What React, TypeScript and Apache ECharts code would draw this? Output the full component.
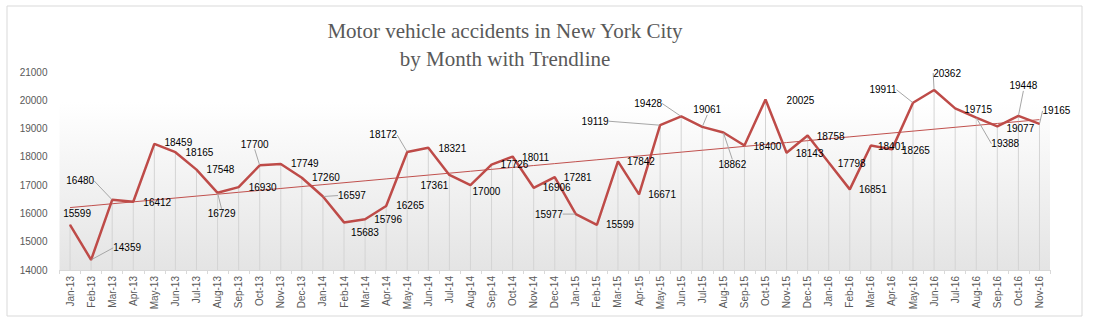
import React, { useEffect, useRef } from "react";
import * as echarts from "echarts";

const months: string[] = [
  "Jan-13", "Feb-13", "Mar-13", "Apr-13", "May-13", "Jun-13", "Jul-13", "Aug-13", "Sep-13", "Oct-13", "Nov-13", "Dec-13",
  "Jan-14", "Feb-14", "Mar-14", "Apr-14", "May-14", "Jun-14", "Jul-14", "Aug-14", "Sep-14", "Oct-14", "Nov-14", "Dec-14",
  "Jan-15", "Feb-15", "Mar-15", "Apr-15", "May-15", "Jun-15", "Jul-15", "Aug-15", "Sep-15", "Oct-15", "Nov-15", "Dec-15",
  "Jan-16", "Feb-16", "Mar-16", "Apr-16", "May-16", "Jun-16", "Jul-16", "Aug-16", "Sep-16", "Oct-16", "Nov-16",
];

const accidents: number[] = [
  15599, 14359, 16480, 16412, 18459, 18165, 17548, 16729, 16930, 17700, 17749, 17260,
  16597, 15683, 15796, 16265, 18172, 18321, 17361, 17000, 17726, 18011, 16906, 17281,
  15977, 15599, 17842, 16671, 19119, 19428, 19061, 18862, 18400, 20025, 18143, 18758,
  17798, 16851, 18401, 18265, 19911, 20362, 19715, 19388, 19077, 19448, 19165,
];

const yTicks = { min: 14000, max: 21000, interval: 1000 };

// label placement (style): offset of label centre from its point, in px
const labelOffsets: [number, number][] = [
  [7, -11], [36, -12], [-32, -19], [24, 1], [24, -1], [24, 0], [24, 0], [4, 21], [24, 0], [-5, -21], [24, 0], [24, 0],
  [29, -1], [21, 10], [23, 0], [24, 0], [-24, -17], [24, 1], [-15, 11], [16, 6], [23, 0], [23, 1], [23, 0], [23, 0],
  [-27, 0], [23, 0], [23, 0], [23, 0], [-65, -4], [-33, -13], [5, -17], [9, 32], [23, 1], [35, 1], [23, 1], [23, 1],
  [23, 1], [23, 0], [21, 1], [24, 1], [-30, -13], [13, -17], [23, 1], [29, 26], [23, 2], [5, -30], [17, -13],
];
const leaderIdx = new Set([1, 2, 7, 9, 12, 16, 24, 28, 29, 30, 31, 40, 41, 43, 45, 46]);

function linearTrend(vals: number[]): number[] {
  const n = vals.length;
  let sx = 0, sy = 0, sxx = 0, sxy = 0;
  vals.forEach((y, i) => {
    const x = i + 1;
    sx += x; sy += y; sxx += x * x; sxy += x * y;
  });
  const b = (n * sxy - sx * sy) / (n * sxx - sx * sx);
  const a = (sy - b * sx) / n;
  return vals.map((_, i) => a + b * (i + 1));
}

export default function App() {
  const ref = useRef<HTMLDivElement>(null);
  useEffect(() => {
    if (!ref.current) return;
    const chart = echarts.init(ref.current, undefined, { renderer: "svg" });
    const trend = linearTrend(accidents);
    const labelFont = "'Liberation Sans', Arial, sans-serif";
    chart.setOption({
      animation: false,
      backgroundColor: "#ffffff",
      title: {
        text: "Motor vehicle accidents in New York City\nby Month with Trendline",
        left: 505,
        top: 17,
        padding: 0,
        textAlign: "center",
        textStyle: {
          fontFamily: "'Liberation Serif', 'DejaVu Serif', serif",
          fontSize: 21,
          fontWeight: "normal",
          color: "#595959",
          lineHeight: 28,
        },
      },
      graphic: [
        {
          type: "rect",
          shape: { x: 7, y: 6, width: 1075, height: 310 },
          style: { fill: "none", stroke: "#d9d9d9", lineWidth: 1 },
          silent: true,
        },
      ],
      grid: {
        left: 59.5,
        right: 43,
        top: 72,
        bottom: 53,
        show: true,
        borderWidth: 0,
        backgroundColor: new echarts.graphic.LinearGradient(0, 0, 0, 1, [
          { offset: 0, color: "#ffffff" },
          { offset: 0.15, color: "#ffffff" },
          { offset: 1, color: "#e4e4e4" },
        ]),
      },
      xAxis: {
        type: "category",
        data: months,
        boundaryGap: true,
        axisLine: { lineStyle: { color: "#d9d9d9", width: 1 } },
        axisTick: { show: true, alignWithLabel: false, length: 4, lineStyle: { color: "#d9d9d9" } },
        axisLabel: {
          rotate: 90,
          interval: 0,
          fontSize: 10,
          fontFamily: labelFont,
          color: "#595959",
          margin: 6,
        },
        splitLine: { show: false },
      },
      yAxis: {
        type: "value",
        min: yTicks.min,
        max: yTicks.max,
        interval: yTicks.interval,
        axisLine: { show: false },
        axisTick: { show: false },
        splitLine: { show: false },
        axisLabel: {
          fontSize: 10,
          fontFamily: labelFont,
          color: "#595959",
          margin: 12,
          formatter: (v: number) => String(v),
        },
      },
      series: [
        {
          type: "bar",
          data: accidents,
          barWidth: 1,
          itemStyle: { color: "#d4d4d4" },
          silent: true,
          z: 1,
        },
        {
          type: "line",
          data: trend,
          symbol: "none",
          lineStyle: { color: "#c0504d", width: 1 },
          silent: true,
          z: 2,
        },
        {
          type: "line",
          data: accidents.map((v, i) => ({
            value: v,
            labelLine: { show: leaderIdx.has(i) },
          })),
          symbol: "circle",
          symbolSize: 1,
          showSymbol: true,
          itemStyle: { color: "#be4b48" },
          lineStyle: { color: "#be4b48", width: 2.5 },
          z: 3,
          label: {
            show: true,
            position: "inside",
            fontSize: 10,
            fontFamily: labelFont,
            color: "#000000",
          },
          labelLine: {
            show: false,
            lineStyle: { color: "#a6a6a6", width: 1 },
          },
          labelLayout: (params: any) => {
            const off = labelOffsets[params.dataIndex] || [0, 0];
            const cx = params.rect.x + params.rect.width / 2;
            const cy = params.rect.y + params.rect.height / 2;
            return {
              x: cx + off[0],
              y: cy + off[1],
              align: "center",
              verticalAlign: "middle",
              hideOverlap: false,
            };
          },
        },
      ],
    });
    return () => chart.dispose();
  }, []);
  return (
    <div
      ref={ref}
      style={{ position: "absolute", left: 0, top: 0, width: 1093, height: 323 }}
    />
  );
}
